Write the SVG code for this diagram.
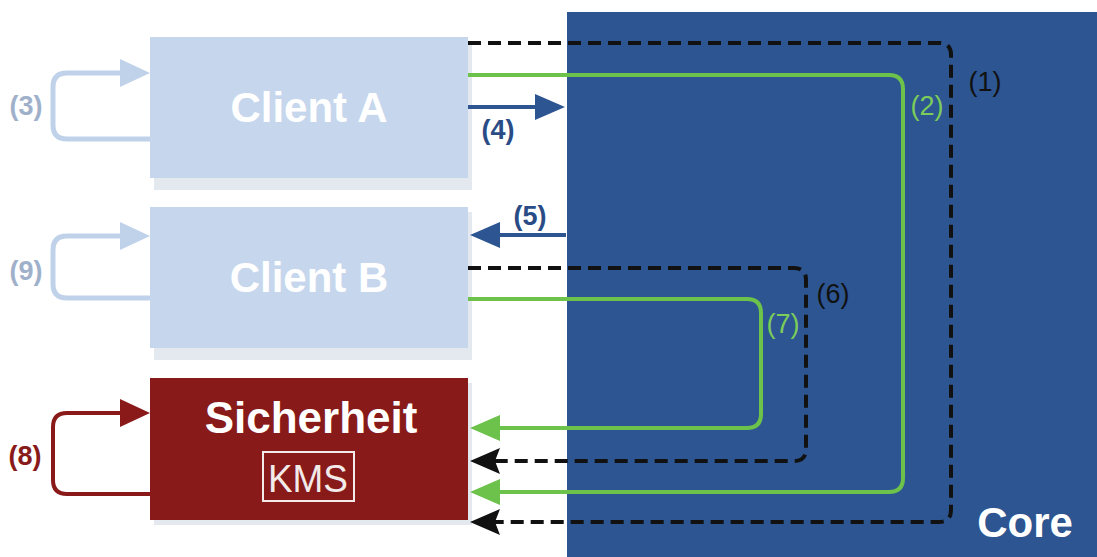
<svg xmlns="http://www.w3.org/2000/svg" width="1097" height="557" viewBox="0 0 1097 557">
<style>
.shadow{fill:#e4e9f0}
.client{fill:#c6d7ed}
.title{font-family:"Liberation Sans",Arial,sans-serif;font-weight:bold;fill:#ffffff;text-anchor:middle}
.lbl{font-family:"Liberation Sans",Arial,sans-serif;font-size:27px;text-anchor:middle}
.dash{fill:none;stroke:#111111;stroke-width:4;stroke-dasharray:13 7}
.green{fill:none;stroke:#6cc24a;stroke-width:4}
.blue{fill:none;stroke:#2c5591;stroke-width:4}
.loopL{fill:none;stroke:#bfd2ea;stroke-width:5}
.loopR{fill:none;stroke:#8a1a1a;stroke-width:4}
</style>
<defs>
<marker id="mBlack" markerUnits="userSpaceOnUse" markerWidth="30" markerHeight="26" refX="24" refY="13" orient="auto"><path d="M0,0 L30,13 L0,26 L5,13 z" fill="#111111"/></marker>
<marker id="mGreen" markerUnits="userSpaceOnUse" markerWidth="30" markerHeight="26" refX="24" refY="13" orient="auto"><path d="M0,0 L30,13 L0,26 z" fill="#6cc24a"/></marker>
<marker id="mBlue" markerUnits="userSpaceOnUse" markerWidth="30" markerHeight="26" refX="24" refY="13" orient="auto"><path d="M0,0 L30,13 L0,26 z" fill="#2c5591"/></marker>
<marker id="mLight" markerUnits="userSpaceOnUse" markerWidth="30" markerHeight="28" refX="24" refY="14" orient="auto"><path d="M0,0 L30,14 L0,28 z" fill="#bfd2ea"/></marker>
<marker id="mRed" markerUnits="userSpaceOnUse" markerWidth="30" markerHeight="28" refX="24" refY="14" orient="auto"><path d="M0,0 L30,14 L0,28 z" fill="#8a1a1a"/></marker>
</defs>
<rect width="1097" height="557" fill="#ffffff"/>
<g id="core">
<rect x="567" y="12" width="530" height="545" fill="#2c5591"/>
<text class="title" x="1025" y="537" font-size="42">Core</text>
</g>
<g id="clientA">
<rect class="shadow" x="154" y="42" width="318" height="148"/>
<rect class="client" x="150" y="37" width="318" height="141"/>
<text class="title" x="309" y="122" font-size="42">Client A</text>
</g>
<g id="clientB">
<rect class="shadow" x="154" y="212" width="318" height="148"/>
<rect class="client" x="150" y="207" width="318" height="141"/>
<text class="title" x="309" y="292" font-size="42">Client B</text>
</g>
<g id="sicherheit">
<rect class="shadow" x="154" y="383" width="318" height="142"/>
<rect x="150" y="378" width="318" height="142" fill="#881a1a"/>
<text class="title" x="311" y="433" font-size="44">Sicherheit</text>
<rect x="263" y="452" width="91" height="49" fill="none" stroke="#f3eaea" stroke-width="2"/>
<text x="308" y="492" font-family="Liberation Sans,Arial,sans-serif" font-size="38" fill="#f3eaea" text-anchor="middle" textLength="80" lengthAdjust="spacingAndGlyphs">KMS</text>
</g>
<g id="connectors">
<path class="dash" d="M468,43 H939 Q951,43 951,55 V510 Q951,522 939,522 H476" marker-end="url(#mBlack)"/>
<path class="green" d="M468,75 H889 Q903,75 903,89 V478 Q903,492 889,492 H476" marker-end="url(#mGreen)"/>
<path class="dash" d="M468,268 H794 Q806,268 806,280 V449 Q806,461 794,461 H476" marker-end="url(#mBlack)"/>
<path class="green" d="M468,299 H747 Q761,299 761,313 V414 Q761,428 747,428 H476" marker-end="url(#mGreen)"/>
<path class="blue" d="M468,107 H559" marker-end="url(#mBlue)"/>
<path class="blue" d="M566,235 H476" marker-end="url(#mBlue)"/>
<path class="loopL" d="M150,139 H67 Q53,139 53,125 V87 Q53,73 67,73 H144" marker-end="url(#mLight)"/>
<path class="loopL" d="M150,298 H67 Q53,298 53,284 V250 Q53,236 67,236 H144" marker-end="url(#mLight)"/>
<path class="loopR" d="M150,494 H67 Q53,494 53,480 V427 Q53,413 67,413 H144" marker-end="url(#mRed)"/>
<text class="lbl" x="985" y="91" fill="#111111">(1)</text>
<text class="lbl" x="927" y="115" fill="#7ccc5a">(2)</text>
<text class="lbl" x="26" y="115" fill="#9fb1ca" font-weight="bold">(3)</text>
<text class="lbl" x="498" y="139" fill="#2a4c86" font-weight="bold">(4)</text>
<text class="lbl" x="530" y="225" fill="#2a4c86" font-weight="bold">(5)</text>
<text class="lbl" x="833" y="303" fill="#111111">(6)</text>
<text class="lbl" x="783" y="333" fill="#7ccc5a">(7)</text>
<text class="lbl" x="25" y="465" fill="#881a1a" font-weight="bold">(8)</text>
<text class="lbl" x="26" y="280" fill="#9fb1ca" font-weight="bold">(9)</text>
</g>
</svg>
